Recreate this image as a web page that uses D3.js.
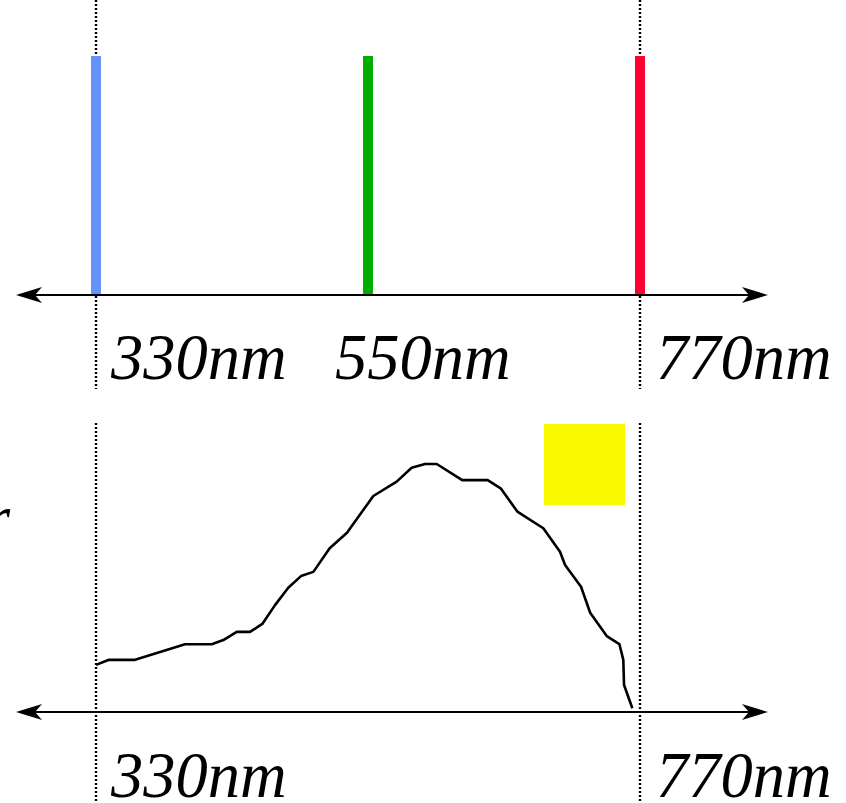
<!DOCTYPE html>
<html>
<head>
<meta charset="utf-8">
<script src="https://d3js.org/d3.v7.min.js"></script>
<style>
  html, body { margin: 0; padding: 0; background: #fff; }
  svg text { font-family: "Liberation Serif", "Times New Roman", serif; font-style: italic; }
</style>
</head>
<body>
<svg id="chart" width="846" height="803"></svg>
<script>
// spectral lines (top panel)
var lineNm = [330, 550, 770]
var lineColors = ['#6592fb', '#00ad00', '#ff0033']

// continuous spectrum (bottom panel), relative intensity
var specNm = [330, 340, 361, 402, 423.6, 433, 443.8, 454.6, 464.5, 474.8, 485.5, 495.8, 505.8, 519, 533,
              554.3, 573.2, 585.3, 596.1, 605.6, 626.2, 646.8, 657.3, 670.8, 691.8, 705.3, 709.4, 722.3,
              729.7, 743.1, 753.3, 756.5, 757.1, 763.8]
var specVal = [19, 21, 21, 27.3, 27.3, 29, 32.3, 32.3, 35.5, 43.1, 50.1, 54.8, 56.5, 66, 72.3,
               87.1, 92.9, 98.5, 100, 100, 93.5, 93.5, 90.2, 80.8, 74.1, 64.6, 59.3, 50.5,
               40, 30.6, 27.4, 21, 10.9, 1.5]

var topLabels = ['330nm', '550nm', '770nm']
var bottomLabels = ['330nm', '770nm']
var bottomLabelNm = [330, 770]

var svg = d3.select('#chart')

var x = d3.scaleLinear().domain([330, 770]).range([96, 640])
var yTop = d3.scaleLinear().domain([0, 1]).range([295, 56])
var yBot = d3.scaleLinear().domain([0, 100]).range([712, 464])

// dotted guides
var guides = [[0, 389], [423, 803]]
guides.forEach(function(g) {
    svg.selectAll(null)
        .data([330, 770])
        .enter()
        .append('line')
        .attr('x1', function(d) { return x(d) })
        .attr('x2', function(d) { return x(d) })
        .attr('y1', g[0])
        .attr('y2', g[1])
        .attr('stroke', '#000')
        .attr('stroke-width', 2.4)
        .attr('stroke-dasharray', '2,2')
})

// arrowed axes
function arrowAxis(y) {
    svg.append('line')
        .attr('x1', 30).attr('x2', 756)
        .attr('y1', y).attr('y2', y)
        .attr('stroke', '#000')
        .attr('stroke-width', 2.2)
    svg.append('path')
        .attr('d', 'M768,' + y + ' L742,' + (y - 8) + ' L749,' + y + ' L742,' + (y + 8) + ' Z')
        .attr('fill', '#000')
    svg.append('path')
        .attr('d', 'M16,' + y + ' L42,' + (y - 8) + ' L35,' + y + ' L42,' + (y + 8) + ' Z')
        .attr('fill', '#000')
}

// top: emission lines
svg.selectAll('rect.bar')
    .data(lineNm)
    .enter()
    .append('rect')
    .classed('bar', true)
    .attr('x', function(d) { return x(d) - 5 })
    .attr('y', yTop(1))
    .attr('width', 10)
    .attr('height', yTop(0) - yTop(1))
    .attr('fill', function(d, i) { return lineColors[i] })

arrowAxis(295)

var topOffsets = [15, -33, 16]
svg.selectAll('text.toplab')
    .data(topLabels)
    .enter()
    .append('text')
    .classed('toplab', true)
    .attr('x', function(d, i) { return x(lineNm[i]) + topOffsets[i] })
    .attr('y', 379)
    .attr('font-size', 64.5)
    .text(function(d) { return d })

// bottom: continuous spectrum
var line = d3.line()
    .x(function(d) { return x(d[0]) })
    .y(function(d) { return yBot(d[1]) })

svg.append('path')
    .datum(d3.zip(specNm, specVal))
    .attr('d', line)
    .attr('fill', 'none')
    .attr('stroke', '#000')
    .attr('stroke-width', 2.6)
    .attr('stroke-linejoin', 'round')

arrowAxis(712)

svg.append('rect')
    .attr('x', 544).attr('y', 424)
    .attr('width', 81).attr('height', 81)
    .attr('fill', '#f9f900')

var botOffsets = [15, 16]
svg.selectAll('text.botlab')
    .data(bottomLabels)
    .enter()
    .append('text')
    .classed('botlab', true)
    .attr('x', function(d, i) { return x(bottomLabelNm[i]) + botOffsets[i] })
    .attr('y', 797)
    .attr('font-size', 64.5)
    .text(function(d) { return d })

// clipped axis caption at the left edge
svg.append('text')
    .attr('x', 10)
    .attr('y', 540)
    .attr('text-anchor', 'end')
    .attr('font-size', 64.5)
    .text('r')
</script>
</body>
</html>
